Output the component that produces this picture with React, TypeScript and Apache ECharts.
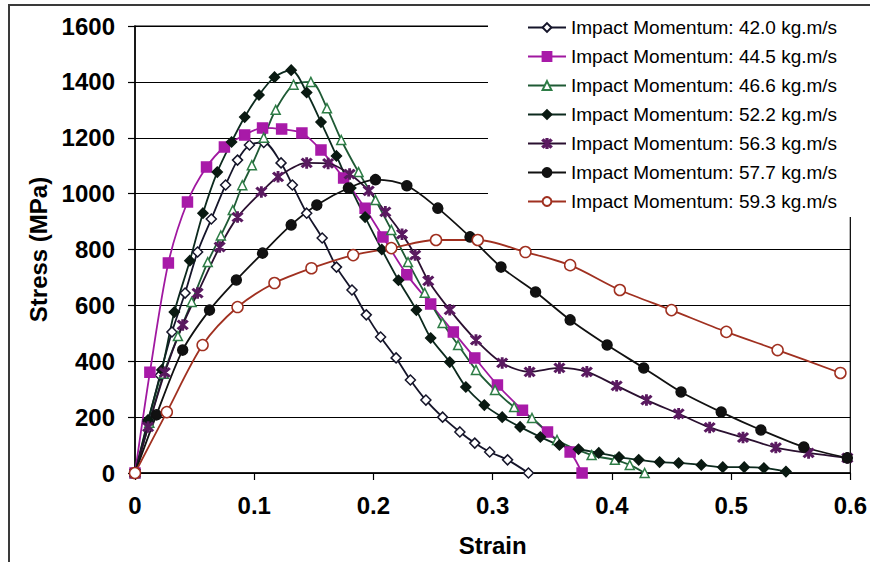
import React, { useEffect, useRef } from "react";
import * as echarts from "echarts";

const seriesNames = [
  "Impact Momentum: 42.0 kg.m/s",
  "Impact Momentum: 44.5 kg.m/s",
  "Impact Momentum: 46.6 kg.m/s",
  "Impact Momentum: 52.2 kg.m/s",
  "Impact Momentum: 56.3 kg.m/s",
  "Impact Momentum: 57.7 kg.m/s",
  "Impact Momentum: 59.3 kg.m/s",
];

const strain420 = [0, 0.011, 0.021, 0.031, 0.042, 0.0525, 0.064, 0.076, 0.086, 0.096, 0.108, 0.1225, 0.132, 0.144, 0.157, 0.169, 0.182, 0.194, 0.206, 0.219, 0.231, 0.244, 0.258, 0.2725, 0.285, 0.2975, 0.3125, 0.33];
const stress420 = [0, 183, 350, 505, 644, 791, 909, 1031, 1120, 1174, 1183, 1110, 1031, 930, 841, 737, 655, 566, 487, 412, 333, 261, 200, 147, 107, 75, 47, 0];

const strain445 = [0, 0.0125, 0.028, 0.044, 0.06, 0.075, 0.092, 0.107, 0.123, 0.14, 0.156, 0.175, 0.193, 0.208, 0.228, 0.248, 0.267, 0.285, 0.304, 0.325, 0.346, 0.365, 0.375];
const stress445 = [0, 361, 752, 970, 1095, 1167, 1210, 1235, 1231, 1217, 1156, 1056, 948, 845, 710, 605, 505, 412, 315, 225, 147, 75, 0];

const strain466 = [0, 0.012, 0.024, 0.036, 0.0475, 0.061, 0.072, 0.082, 0.09, 0.098, 0.108, 0.118, 0.133, 0.1475, 0.161, 0.173, 0.1875, 0.2017, 0.215, 0.229, 0.243, 0.258, 0.271, 0.286, 0.302, 0.318, 0.333, 0.354, 0.383, 0.4025, 0.415, 0.4275];
const stress466 = [0, 180, 355, 490, 612, 755, 850, 941, 1030, 1102, 1200, 1300, 1390, 1400, 1306, 1192, 1077, 977, 870, 755, 645, 537, 458, 369, 297, 236, 197, 118, 64, 47, 29, 0];

const strain522 = [0, 0.011, 0.0225, 0.033, 0.046, 0.057, 0.069, 0.081, 0.092, 0.104, 0.117, 0.131, 0.144, 0.156, 0.169, 0.181, 0.193, 0.207, 0.221, 0.236, 0.248, 0.264, 0.2775, 0.293, 0.308, 0.323, 0.34, 0.356, 0.372, 0.389, 0.406, 0.4225, 0.44, 0.456, 0.475, 0.493, 0.511, 0.5275, 0.546];
const stress522 = [0, 190, 369, 576, 760, 930, 1077, 1185, 1274, 1353, 1417, 1442, 1362, 1256, 1135, 1020, 916, 800, 690, 583, 483, 397, 308, 243, 200, 165, 129, 100, 85, 72, 57, 47, 39, 36, 29, 21, 21, 18, 5];

const strain563 = [0, 0.011, 0.025, 0.04, 0.0525, 0.071, 0.086, 0.106, 0.12, 0.144, 0.162, 0.18, 0.196, 0.21, 0.224, 0.235, 0.246, 0.264, 0.286, 0.308, 0.331, 0.356, 0.379, 0.404, 0.429, 0.456, 0.482, 0.51, 0.5375, 0.565, 0.5975];
const stress563 = [0, 165, 360, 530, 644, 809, 916, 1006, 1060, 1110, 1108, 1070, 1010, 935, 855, 780, 688, 584, 476, 394, 362, 376, 362, 312, 261, 212, 163, 127, 91, 72, 54];

const strain577 = [0, 0.018, 0.04, 0.0625, 0.085, 0.107, 0.131, 0.1525, 0.179, 0.2017, 0.228, 0.254, 0.281, 0.307, 0.336, 0.365, 0.396, 0.4267, 0.458, 0.4917, 0.525, 0.561, 0.5975];
const stress577 = [0, 208, 440, 583, 691, 787, 888, 959, 1020, 1050, 1028, 948, 845, 737, 648, 548, 458, 376, 290, 218, 154, 93, 54];

const strain593 = [0, 0.0267, 0.0567, 0.086, 0.117, 0.148, 0.183, 0.215, 0.2525, 0.2875, 0.3275, 0.365, 0.4067, 0.45, 0.496, 0.539, 0.5917];
const stress593 = [0, 218, 458, 594, 680, 733, 780, 805, 834, 834, 791, 744, 655, 583, 505, 440, 358];

const yTicks = [0, 200, 400, 600, 800, 1000, 1200, 1400, 1600];
const xTicks = [0, 0.1, 0.2, 0.3, 0.4, 0.5, 0.6];

const ASTERISK =
  "path://M4.4 0H5.6V10H4.4Z M0.6 1.6L1.6 0.6L9.4 8.4L8.4 9.4Z M8.4 0.6L9.4 1.6L1.6 9.4L0.6 8.4Z";

const zip = (xs: number[], ys: number[]) => xs.map((x, i) => [x, ys[i]]);

const FONT = "Liberation Sans, Arial, sans-serif";

export default function App() {
  const ref = useRef<HTMLDivElement>(null);
  useEffect(() => {
    if (!ref.current) return;
    const chart = echarts.init(ref.current, null, { renderer: "svg" });
    const mk = (
      name: string,
      data: number[][],
      lineColor: string,
      symbol: string,
      symbolSize: number,
      fill: string,
      edge: string
    ) => ({
      name,
      type: "line",
      data,
      smooth: 0.3,
      symbol,
      symbolSize,
      showAllSymbol: true,
      lineStyle: { color: lineColor, width: 1.8 },
      itemStyle: { color: fill, borderColor: edge, borderWidth: 1.5 },
      emphasis: { disabled: true },
    });
    chart.setOption({
      animation: false,
      backgroundColor: "#ffffff",
      graphic: [
        {
          type: "rect",
          shape: { x: 9, y: 5, width: 900, height: 600 },
          style: { fill: "none", stroke: "#3a3a3a", lineWidth: 2 },
          z: 100,
        },
      ],
      grid: {
        left: 135,
        right: 15,
        top: 26,
        bottom: 89,
        show: true,
        borderColor: "#000",
        borderWidth: 1.2,
        backgroundColor: "transparent",
      },
      legend: {
        orient: "vertical",
        left: 488,
        top: 10,
        padding: [8, 40, 6, 39],
        itemGap: 10,
        itemWidth: 38,
        itemHeight: 11,
        backgroundColor: "#ffffff",
        selectedMode: false,
        data: seriesNames,
        textStyle: { fontFamily: FONT, fontSize: 19, color: "#000", lineHeight: 19 },
      },
      xAxis: {
        type: "value",
        min: xTicks[0],
        max: xTicks[xTicks.length - 1],
        interval: 0.1,
        name: "Strain",
        nameLocation: "middle",
        nameGap: 60,
        nameTextStyle: { fontFamily: FONT, fontSize: 24, fontWeight: "bold", color: "#000" },
        axisLine: { show: true, lineStyle: { color: "#000", width: 1.5 } },
        axisTick: { show: true, length: 7, lineStyle: { color: "#000", width: 1.2 } },
        axisLabel: {
          fontFamily: FONT,
          fontSize: 24,
          fontWeight: "bold",
          color: "#000",
          margin: 20,
          formatter: (v: number) => String(Math.round(v * 10) / 10),
        },
        splitLine: { show: false },
      },
      yAxis: {
        type: "value",
        min: yTicks[0],
        max: yTicks[yTicks.length - 1],
        interval: 200,
        name: "Stress (MPa)",
        nameLocation: "middle",
        nameGap: 72,
        nameTextStyle: { fontFamily: FONT, fontSize: 24, fontWeight: "bold", color: "#000" },
        axisLine: { show: true, lineStyle: { color: "#000", width: 1.5 } },
        axisTick: { show: true, length: 7, lineStyle: { color: "#000", width: 1.2 } },
        axisLabel: {
          fontFamily: FONT,
          fontSize: 24,
          fontWeight: "bold",
          color: "#000",
          margin: 20,
          formatter: (v: number) => String(v),
        },
        splitLine: { show: true, lineStyle: { color: "#000", width: 1.2 } },
      },
      series: [
        mk(seriesNames[0], zip(strain420, stress420), "#15152a", "diamond", 10, "#ffffff", "#15152a"),
        mk(seriesNames[1], zip(strain445, stress445), "#a018a0", "rect", 10, "#a81aa8", "#a81aa8"),
        mk(seriesNames[2], zip(strain466, stress466), "#1f5a35", "triangle", 9, "#ffffff", "#2e7d46"),
        mk(seriesNames[3], zip(strain522, stress522), "#0c2a1e", "diamond", 10, "#0a1a12", "#0a1a12"),
        mk(seriesNames[4], zip(strain563, stress563), "#2a1030", ASTERISK, 10, "#5a1a60", "#5a1a60"),
        mk(seriesNames[5], zip(strain577, stress577), "#111111", "circle", 10, "#111111", "#111111"),
        mk(seriesNames[6], zip(strain593, stress593), "#a03020", "circle", 11, "#ffffff", "#a03020"),
      ],
    });
    return () => chart.dispose();
  }, []);
  return (
    <div
      ref={ref}
      style={{ position: "fixed", left: 0, top: 0, width: 870, height: 562, background: "#fff" }}
    />
  );
}
